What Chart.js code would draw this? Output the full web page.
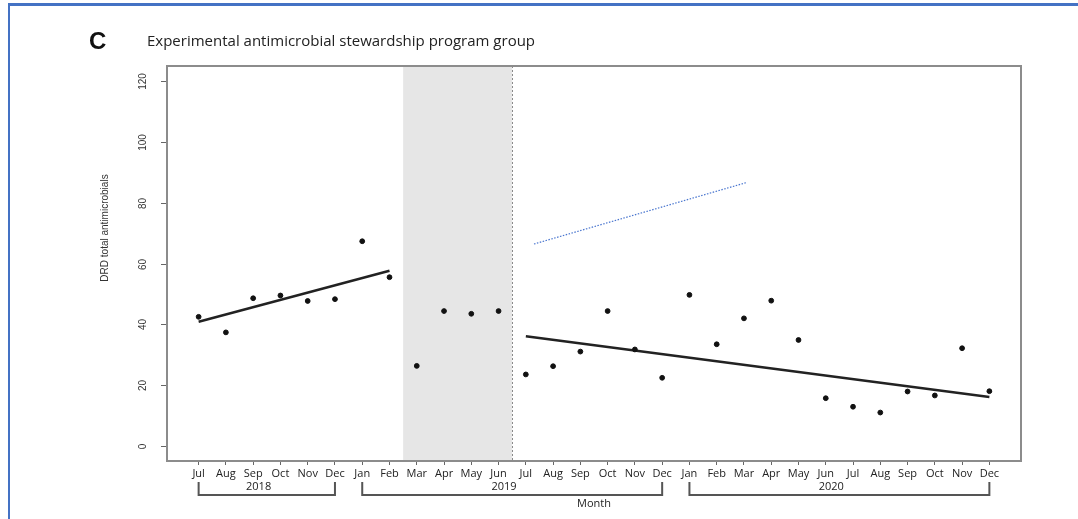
<!DOCTYPE html>
<html>
<head>
<meta charset="utf-8">
<script src="https://cdn.jsdelivr.net/npm/chart.js@4.4.1/dist/chart.umd.min.js"></script>
<style>
  body { margin: 0; background: #fff; }
  canvas { display: block; }
</style>
</head>
<body>
<canvas id="grafico" width="1078" height="519"></canvas>
<script>
// ------------------------------------DATA------------------------------------
const months = ['Jul','Aug','Sep','Oct','Nov','Dec',
                'Jan','Feb','Mar','Apr','May','Jun','Jul','Aug','Sep','Oct','Nov','Dec',
                'Jan','Feb','Mar','Apr','May','Jun','Jul','Aug','Sep','Oct','Nov','Dec'];
const drdValues = [42.5, 37.4, 48.6, 49.5, 47.7, 48.3,
                   67.3, 55.5, 26.4, 44.4, 43.5, 44.4, 23.6, 26.3, 31.1, 44.4, 31.8, 22.5,
                   49.7, 33.5, 42.0, 47.8, 34.9, 15.8, 13.0, 11.1, 18.0, 16.7, 32.2, 18.1];
const yTicks = [0, 20, 40, 60, 80, 100, 120];

const years = ['2018', '2019', '2020'];
const yearFirst = [0, 6, 18];
const yearLast = [5, 17, 29];

// trend lines (x = month index)
const trendPre = [{x: 0, y: 40.9}, {x: 7, y: 57.6}];
const trendPost = [{x: 12, y: 36.1}, {x: 29, y: 16.2}];
const blueLine = [{x: 12.3, y: 66.4}, {x: 20.07, y: 86.5}];

// shaded intervention period
const shadeFrom = 7.5;
const shadeTo = 11.5;

const titleText = 'Experimental antimicrobial stewardship program group';
const yTitle = 'DRD total antimicrobials';
const xTitle = 'Month';
// ------------------------------------DATA------------------------------------

const punti = drdValues.map((v, i) => ({x: i, y: v}));

// ------------------------------------PLUGIN------------------------------------
const decorazioni = {
  id: 'decorazioni',
  beforeDraw(chart) {
    const ctx = chart.ctx;
    ctx.save();
    ctx.fillStyle = '#fff';
    ctx.fillRect(0, 0, chart.width, chart.height);
    // blue frame
    ctx.fillStyle = '#4472C4';
    ctx.fillRect(8, 3, chart.width - 8, 3);
    ctx.fillRect(8, 3, 2, chart.height - 3);
    ctx.restore();
  },
  beforeDatasetsDraw(chart) {
    const ctx = chart.ctx;
    const a = chart.chartArea;
    const x = chart.scales.x;
    ctx.save();
    const x1 = x.getPixelForValue(shadeFrom);
    const x2 = x.getPixelForValue(shadeTo);
    ctx.fillStyle = '#e6e6e6';
    ctx.fillRect(x1, a.top, x2 - x1, a.bottom - a.top);
    ctx.strokeStyle = '#8a8a8a';
    ctx.lineWidth = 1;
    ctx.setLineDash([2, 2]);
    ctx.beginPath();
    ctx.moveTo(Math.round(x2) + 0.5, a.top);
    ctx.lineTo(Math.round(x2) + 0.5, a.bottom);
    ctx.stroke();
    ctx.restore();
  },
  afterDraw(chart) {
    const ctx = chart.ctx;
    const a = chart.chartArea;
    const x = chart.scales.x;
    const y = chart.scales.y;
    ctx.save();

    // box
    ctx.strokeStyle = '#8c8c8c';
    ctx.lineWidth = 2;
    ctx.strokeRect(a.left, a.top, a.right - a.left, a.bottom - a.top);

    // y ticks, rotated labels
    ctx.strokeStyle = '#666';
    ctx.lineWidth = 1;
    ctx.fillStyle = '#333';
    ctx.font = '10px "Liberation Sans"';
    ctx.textAlign = 'center';
    ctx.textBaseline = 'middle';
    yTicks.forEach(t => {
      const py = Math.round(y.getPixelForValue(t)) + 0.5;
      ctx.beginPath();
      ctx.moveTo(a.left - 6, py);
      ctx.lineTo(a.left - 1, py);
      ctx.stroke();
      ctx.save();
      ctx.translate(143, py);
      ctx.rotate(-Math.PI / 2);
      ctx.fillText(String(t), 0, 0);
      ctx.restore();
    });

    // y title
    ctx.save();
    ctx.translate(105, 228);
    ctx.rotate(-Math.PI / 2);
    ctx.font = '10px "Liberation Sans"';
    ctx.fillStyle = '#333';
    ctx.fillText(yTitle, 0, 0);
    ctx.restore();

    // year brackets
    ctx.strokeStyle = '#555';
    ctx.lineWidth = 2;
    ctx.fillStyle = '#222';
    ctx.font = '11px "Open Sans"';
    years.forEach((yr, k) => {
      const xs = x.getPixelForValue(yearFirst[k]);
      const xe = x.getPixelForValue(yearLast[k]);
      ctx.beginPath();
      ctx.moveTo(xs, 482);
      ctx.lineTo(xs, 495);
      ctx.lineTo(xe, 495);
      ctx.lineTo(xe, 482);
      ctx.stroke();
      const mid = x.getPixelForValue((yearFirst[k] + yearLast[k]) / 2 - 0.3);
      ctx.fillText(yr, mid, 487);
    });

    // x title
    ctx.fillText(xTitle, (a.left + a.right) / 2, 504);

    // chart title
    ctx.textAlign = 'left';
    ctx.fillStyle = '#111';
    ctx.font = 'bold 24px "Liberation Sans"';
    ctx.fillText('C', 89, 42);
    ctx.fillStyle = '#222';
    ctx.font = '15px "Open Sans"';
    ctx.fillText(titleText, 147, 42);

    ctx.restore();
  }
};
// ------------------------------------PLUGIN------------------------------------

const ctx = document.getElementById('grafico').getContext('2d');
const chart = new Chart(ctx, {
  type: 'scatter',
  data: {
    datasets: [
      {
        data: punti,
        backgroundColor: '#111',
        borderColor: '#111',
        pointRadius: 2.4,
        showLine: false
      },
      {
        data: trendPre,
        showLine: true,
        borderColor: '#222',
        borderWidth: 2.5,
        pointRadius: 0
      },
      {
        data: trendPost,
        showLine: true,
        borderColor: '#222',
        borderWidth: 2.5,
        pointRadius: 0
      },
      {
        data: blueLine,
        showLine: true,
        borderColor: '#4a76cf',
        borderWidth: 1.2,
        borderDash: [1.5, 1.5],
        pointRadius: 0
      }
    ]
  },
  options: {
    responsive: false,
    animation: false,
    layout: { padding: { top: 66, right: 57, left: 0, bottom: 0 } },
    plugins: {
      legend: { display: false },
      tooltip: { enabled: false }
    },
    scales: {
      x: {
        type: 'linear',
        min: -1.16,
        max: 30.16,
        afterFit: s => { s.height = 58; },
        afterBuildTicks: s => { s.ticks = months.map((m, i) => ({value: i})); },
        grid: { drawOnChartArea: false, color: '#666', tickLength: 4 },
        border: { display: false },
        ticks: {
          autoSkip: false,
          maxRotation: 0,
          minRotation: 0,
          padding: 2,
          color: '#222',
          font: { family: 'Open Sans', size: 11 },
          callback: v => months[v]
        }
      },
      y: {
        min: -4.8,
        max: 124.8,
        afterFit: s => { s.width = 167; },
        grid: { display: false },
        border: { display: false },
        ticks: { display: false }
      }
    }
  },
  plugins: [decorazioni]
});
</script>
</body>
</html>
